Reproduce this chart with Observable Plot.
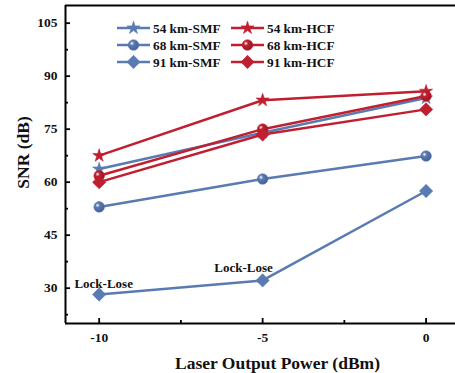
<!DOCTYPE html>
<html>
<head>
<meta charset="utf-8">
<script src="https://cdn.jsdelivr.net/npm/d3@7"></script>
<script src="https://cdn.jsdelivr.net/npm/@observablehq/plot@0.6"></script>
<style>
  html, body { margin: 0; padding: 0; background: #fff; }
  #chart { position: relative; width: 455px; height: 373px; overflow: hidden; }
</style>
</head>
<body>
<div id="chart"></div>
<script>
// ---- data ----
const powers = [-10, -5, 0];
const seriesNames = ["54 km-SMF", "68 km-SMF", "91 km-SMF", "54 km-HCF", "68 km-HCF", "91 km-HCF"];
const snr54SMF = [63.7, 74.0, 83.8];
const snr68SMF = [53.0, 60.9, 67.4];
const snr91SMF = [28.2, 32.2, 57.5];
const snr54HCF = [67.5, 83.2, 85.7];
const snr68HCF = [61.8, 75.0, 84.4];
const snr91HCF = [60.0, 73.5, 80.6];
const seriesValues = [snr54SMF, snr68SMF, snr91SMF, snr54HCF, snr68HCF, snr91HCF];
const seriesSymbols = ["star", "circle", "diamond2", "star", "circle", "diamond2"];
const seriesColors = ["#5a7bb1", "#5a7bb1", "#5a7bb1", "#c01f30", "#c01f30", "#c01f30"];
const xTicks = [-10, -5, 0];
const xMinorTicks = [-7.5, -2.5];
const yTicks = [30, 45, 60, 75, 90, 105];
const yMinorTicks = [22.5, 37.5, 52.5, 67.5, 82.5, 97.5];
const lockLabels = ["Lock-Lose", "Lock-Lose"];
const lockX = [-10, -5];
const lockY = [28.2, 32.2];

const xDomain = [-11.03, 0.9];
const yDomain = [20, 110];

// ---- layout ----
const W = 455, H = 373;
const mL = 65, mR = 0, mT = 5, mB = 50;
const plotW = W - mL - mR, plotH = H - mT - mB;
const font = "'Liberation Serif', 'Times New Roman', serif";
const symR = {star: 4.1, circle: 5.3, diamond2: 6};

const rows = seriesNames.map((name, i) => powers.map((p, j) => ({name, x: p, y: seriesValues[i][j]})));

function fillFor(i) {
  return seriesSymbols[i] === "circle" ? (i < 3 ? "url(#gBlue)" : "url(#gRed)") : seriesColors[i];
}

const marks = [];
rows.forEach((data, i) => {
  marks.push(Plot.line(data, {x: "x", y: "y", stroke: seriesColors[i], strokeWidth: 2.5}));
  marks.push(Plot.dot(data, {x: "x", y: "y", symbol: () => seriesSymbols[i], r: symR[seriesSymbols[i]],
    fill: fillFor(i), stroke: seriesColors[i], strokeWidth: 0.6}));
});

const plot = Plot.plot({
  width: W, height: H,
  marginLeft: mL, marginRight: mR, marginTop: mT, marginBottom: mB,
  style: {fontFamily: font, background: "#fff", overflow: "visible"},
  symbol: {type: "identity"},
  x: {domain: xDomain},
  y: {domain: yDomain},
  marks: [
    // frame (left, top, bottom)
    Plot.ruleX([xDomain[0]], {stroke: "#000", strokeWidth: 2}),
    Plot.ruleY(yDomain, {stroke: "#000", strokeWidth: 2}),
    // inward ticks
    Plot.tickY(yTicks, {y: d => d, insetRight: plotW - 5, stroke: "#000", strokeWidth: 1.8}),
    Plot.tickY(yMinorTicks, {y: d => d, insetRight: plotW - 3, stroke: "#000", strokeWidth: 1.8}),
    Plot.tickX(xTicks, {x: d => d, insetTop: plotH - 5, stroke: "#000", strokeWidth: 1.8}),
    Plot.tickX(xMinorTicks, {x: d => d, insetTop: plotH - 3, stroke: "#000", strokeWidth: 1.8}),
    // tick labels
    Plot.axisY({ticks: yTicks, tickSize: 0, tickPadding: 8, label: null, tickFormat: d => String(d),
      fontSize: 13.5, fontWeight: "bold", fill: "#111"}),
    Plot.axisX({ticks: xTicks, tickSize: 0, tickPadding: 9, label: null, tickFormat: d => String(d),
      fontSize: 13.5, fontWeight: "bold", fill: "#111"}),
    // axis titles
    Plot.text(["SNR (dB)"], {frameAnchor: "left", dx: -42, dy: -12, rotate: -90, textAnchor: "middle", lineAnchor: "middle",
      fontSize: 17.5, fontWeight: "bold", fill: "#111"}),
    Plot.text(["Laser Output Power (dBm)"], {frameAnchor: "bottom", dx: 17, dy: 40, textAnchor: "middle", lineAnchor: "middle",
      fontSize: 17.5, fontWeight: "bold", fill: "#111"}),
    ...marks,
    // annotations
    Plot.text([0], {x: () => lockX[0], y: () => lockY[0], text: () => lockLabels[0], dx: 4.5, dy: -11,
      fontSize: 13, fontWeight: "bold", fill: "#111"}),
    Plot.text([1], {x: () => lockX[1], y: () => lockY[1], text: () => lockLabels[1], dx: -19, dy: -13,
      fontSize: 13, fontWeight: "bold", fill: "#111"})
  ]
});

// gradients for the shaded circles
const svg = d3.select(plot);
const defs = svg.insert("defs", ":first-child");
[["gBlue", "#5a7bb1", "#3f5f95"], ["gRed", "#c01f30", "#9a1424"]].forEach(([id, c, dark]) => {
  const g = defs.append("radialGradient").attr("id", id).attr("cx", "0.35").attr("cy", "0.35").attr("r", "0.7");
  g.append("stop").attr("offset", "0").attr("stop-color", "#ffffff");
  g.append("stop").attr("offset", "0.3").attr("stop-color", c);
  g.append("stop").attr("offset", "1").attr("stop-color", dark);
});

// legend (inside the plot)
const legend = svg.append("g").attr("font-family", font).attr("font-weight", "bold").attr("font-size", 13.3)
  .attr("text-anchor", "start");
const colX = [117, 231], rowY = [28, 45, 62];
seriesNames.forEach((name, i) => {
  const cx = colX[Math.floor(i / 3)], cy = rowY[i % 3];
  const g = legend.append("g");
  g.append("line").attr("x1", cx).attr("x2", cx + 33).attr("y1", cy).attr("y2", cy)
    .attr("stroke", seriesColors[i]).attr("stroke-width", 2.5);
  const sym = {star: d3.symbolStar, circle: d3.symbolCircle, diamond2: d3.symbolDiamond2}[seriesSymbols[i]];
  const r = symR[seriesSymbols[i]];
  g.append("path").attr("d", d3.symbol(sym, r * r * Math.PI)())
    .attr("transform", `translate(${cx + 16.5},${cy})`)
    .attr("fill", fillFor(i)).attr("stroke", seriesColors[i]).attr("stroke-width", 0.6);
  g.append("text").attr("x", cx + 36).attr("y", cy).attr("dy", "0.35em").attr("text-anchor", "start")
    .attr("fill", "#111").text(name);
});

document.getElementById("chart").appendChild(plot);
</script>
</body>
</html>
